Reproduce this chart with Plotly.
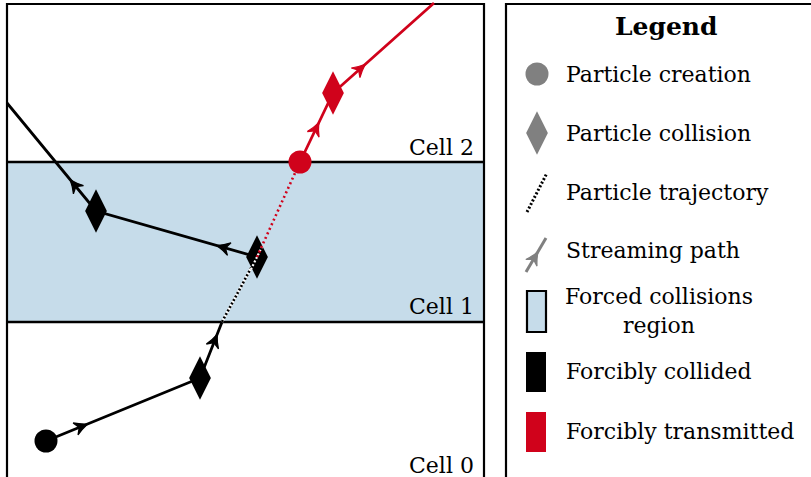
import plotly.graph_objects as go

W, H = 811, 477
RED = "#d0021b"
BLUE = "#c6dcea"
GRAY = "#808080"
FONT = "DejaVu Serif"
FS = 22

# Geometry of the diagram (pixel-like units, y grows downward)
panel_left, panel_right, panel_top = 7, 484, 4
boundary_cell2_y = 162
boundary_cell1_y = 322
cell_labels = ["Cell 2", "Cell 1", "Cell 0"]
cell_label_y = [147, 306, 465]

# Black particle path
black_solid1_x = [46, 200, 222]
black_solid1_y = [441, 378, 322]
black_dotted_x = [222, 257]
black_dotted_y = [322, 257]
black_solid2_x = [257, 96, 7]
black_solid2_y = [257, 211, 103]
black_creation = (46, 441)
black_collisions_x = [200, 257, 96]
black_collisions_y = [378, 257, 211]

# Red particle path
red_dotted_x = [257, 300]
red_dotted_y = [257, 162]
red_solid_x = [300, 333, 434]
red_solid_y = [162, 93, 3]
red_creation = (300, 162)
red_collisions_x = [333]
red_collisions_y = [93]

# Arrow positions: (segment start, segment end, fraction along, colour)
arrows = [
    ((46, 441), (200, 378), 0.27, "black"),
    ((200, 378), (222, 322), 0.78, "black"),
    ((257, 257), (96, 211), 0.25, "black"),
    ((96, 211), (7, 103), 0.29, "black"),
    ((300, 162), (333, 93), 0.57, RED),
    ((333, 93), (434, 3), 0.32, RED),
]

# Legend
legend_title = "Legend"
legend_labels = ["Particle creation", "Particle collision", "Particle trajectory",
                 "Streaming path", "Forced collisions<br>region", "Forcibly collided",
                 "Forcibly transmitted"]
legend_label_y = [74, 133, 192, 250, 311, 371, 431]
legend_box_left = 506

fig = go.Figure()

def line(xs, ys, color, width=2.8, dash="solid"):
    fig.add_trace(go.Scatter(x=xs, y=ys, mode="lines", hoverinfo="skip",
                             line=dict(color=color, width=width, dash=dash)))

def markers(xs, ys, color, symbol, size):
    fig.add_trace(go.Scatter(x=xs, y=ys, mode="markers", hoverinfo="skip",
                             marker=dict(color=color, symbol=symbol, size=size,
                                         line=dict(width=0))))

def arrow_head(p0, p1, t, color, L=13.0, w=6.5, d=4.0):
    tx = p0[0] + (p1[0] - p0[0]) * t
    ty = p0[1] + (p1[1] - p0[1]) * t
    dx, dy = p1[0] - p0[0], p1[1] - p0[1]
    n = (dx * dx + dy * dy) ** 0.5
    ux, uy = dx / n, dy / n
    nx, ny = -uy, ux
    bpx, bpy = tx - L * ux + w * nx, ty - L * uy + w * ny
    bmx, bmy = tx - L * ux - w * nx, ty - L * uy - w * ny
    ncx, ncy = tx - (L - d) * ux, ty - (L - d) * uy
    c1x, c1y = tx - 0.55 * L * ux + 0.4 * w * nx, ty - 0.55 * L * uy + 0.4 * w * ny
    c2x, c2y = tx - 0.55 * L * ux - 0.4 * w * nx, ty - 0.55 * L * uy - 0.4 * w * ny
    path = (f"M{tx:.2f},{ty:.2f} Q{c1x:.2f},{c1y:.2f} {bpx:.2f},{bpy:.2f} "
            f"L{ncx:.2f},{ncy:.2f} L{bmx:.2f},{bmy:.2f} Q{c2x:.2f},{c2y:.2f} {tx:.2f},{ty:.2f} Z")
    fig.add_shape(type="path", path=path, fillcolor=color, line=dict(color=color, width=1.2),
                  layer="above")

# Forced collision region fill and panel frame
fig.add_shape(type="rect", x0=panel_left, x1=panel_right, y0=boundary_cell2_y, y1=boundary_cell1_y,
              fillcolor=BLUE, line=dict(width=0), layer="below")
for yb in (boundary_cell2_y, boundary_cell1_y):
    fig.add_shape(type="line", x0=panel_left, x1=panel_right, y0=yb, y1=yb,
                  line=dict(color="black", width=2.4), layer="below")
fig.add_shape(type="rect", x0=panel_left, x1=panel_right, y0=panel_top, y1=H + 10,
              line=dict(color="black", width=2.2), layer="below")
fig.add_shape(type="rect", x0=legend_box_left, x1=W + 10, y0=panel_top, y1=H + 10,
              line=dict(color="black", width=2.2), layer="below")

for lbl, ly in zip(cell_labels, cell_label_y):
    fig.add_annotation(x=panel_right - 8, y=ly, text=lbl, showarrow=False, xanchor="right",
                       yanchor="middle", font=dict(family=FONT, size=FS, color="black"))

# Paths
line(black_solid1_x, black_solid1_y, "black")
line(black_dotted_x, black_dotted_y, "white", width=2.6)
line(black_dotted_x, black_dotted_y, "black", width=2.6, dash="2px,2px")
line(black_solid2_x, black_solid2_y, "black")
line(red_solid_x, red_solid_y, RED)

markers(black_collisions_x, black_collisions_y, "black", "diamond-tall", 31)
markers(red_collisions_x, red_collisions_y, RED, "diamond-tall", 31)

# trajectory dots continuing across the collided diamond
cx, cy = black_dotted_x[1], black_dotted_y[1]
tdx, tdy = red_dotted_x[1] - black_dotted_x[0], red_dotted_y[1] - black_dotted_y[0]
tn = (tdx * tdx + tdy * tdy) ** 0.5
line([cx - 14 * tdx / tn, cx + 12 * tdx / tn], [cy - 14 * tdy / tn, cy + 12 * tdy / tn],
     "white", width=2.2, dash="2px,2px")
line(red_dotted_x, red_dotted_y, RED, width=2.6, dash="2px,3px")

markers([black_creation[0]], [black_creation[1]], "black", "circle", 23)
markers([red_creation[0]], [red_creation[1]], RED, "circle", 23)

for p0, p1, t, c in arrows:
    arrow_head(p0, p1, t, c)

# Legend content
fig.add_annotation(x=666, y=26, text="<b>" + legend_title + "</b>", showarrow=False,
                   font=dict(family=FONT, size=25, color="black"))
for i, (lbl, ly) in enumerate(zip(legend_labels, legend_label_y)):
    if i == 4:
        fig.add_annotation(x=659, y=ly, text=lbl, showarrow=False, xanchor="center", align="center",
                           font=dict(family=FONT, size=FS, color="black"))
    else:
        fig.add_annotation(x=564, y=ly, text=lbl, showarrow=False, xanchor="left",
                           font=dict(family=FONT, size=FS, color="black"))

markers([537], [74], GRAY, "circle", 23)
markers([537], [133], GRAY, "diamond-tall", 31)
line([527, 547], [212, 173], "black", width=3, dash="2px,2px")
line([526, 546], [272, 238], GRAY, width=3)
arrow_head((526, 272), (546, 238), 0.6, GRAY)
fig.add_shape(type="rect", x0=527, x1=546, y0=291, y1=332, fillcolor=BLUE,
              line=dict(color="black", width=2.2))
fig.add_shape(type="rect", x0=526, x1=546, y0=352, y1=392, fillcolor="black", line=dict(width=0))
fig.add_shape(type="rect", x0=526, x1=546, y0=412, y1=452, fillcolor=RED, line=dict(width=0))

fig.update_layout(width=W, height=H, margin=dict(l=0, r=0, t=0, b=0),
                  paper_bgcolor="white", plot_bgcolor="white", showlegend=False,
                  xaxis=dict(range=[0, W], visible=False, fixedrange=True),
                  yaxis=dict(range=[H, 0], visible=False, fixedrange=True))

fig.write_html("out.html", config={"displayModeBar": False, "staticPlot": True},
               post_script="document.body.style.margin='0px';")
